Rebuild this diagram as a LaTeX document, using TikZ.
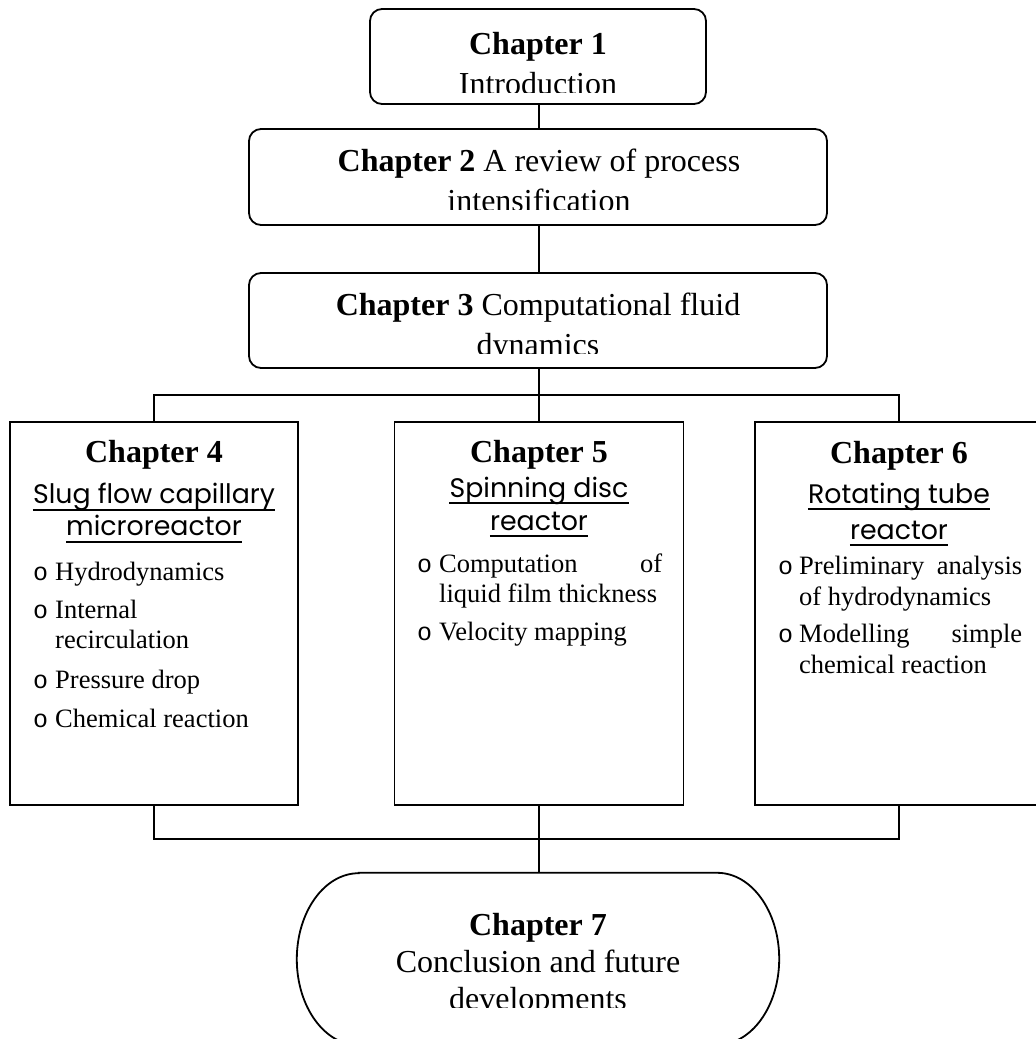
\documentclass[tikz,border=0pt]{standalone}
\usepackage{fontspec}
\setmainfont{Liberation Serif}
\newfontfamily\titlefont{Poppins}
\newfontfamily\bulfont{Liberation Mono}
\begin{document}
\begin{tikzpicture}[x=1pt,y=-1pt,
  box/.style={draw, line width=1.8pt, inner sep=0pt},
  rbox/.style={box, rounded corners=12pt},
  conn/.style={line width=1.8pt},
  uline/.style={line width=1.8pt},
  big/.style={font=\fontsize{32}{37}\selectfont, inner sep=0pt, anchor=base},
  body/.style={font=\fontsize{26.5}{30}\selectfont, inner sep=0pt, anchor=base west},
  bul/.style={font=\bulfont\fontsize{25}{30}\selectfont, inner sep=0pt, anchor=base west},
  ttl/.style={font=\titlefont\fontsize{26.8}{30}\selectfont, inner sep=0pt, anchor=base}]
\useasboundingbox (0,0) rectangle (1036,1039);
\begin{scope}
\clip (0,0) rectangle (1036,1039);
% boxes
\node[rbox, minimum width=336pt, minimum height=95pt] (c1) at (538,56.5) {};
\node[rbox, minimum width=578pt, minimum height=96pt] (c2) at (538,177) {};
\node[rbox, minimum width=578pt, minimum height=95pt] (c3) at (538,320.5) {};
\node[box, minimum width=288pt, minimum height=383pt] (c4) at (154,613.5) {};
\node[box, minimum width=289pt, minimum height=383pt] (c5) at (539,613.5) {};
\node[box, minimum width=288pt, minimum height=383pt] (c6) at (899,613.5) {};
\node[inner sep=0pt, minimum width=482pt, minimum height=172pt] (c7) at (538,959) {};
\draw[conn] ([xshift=62pt]c7.north west) -- ([xshift=-62pt]c7.north east)
  arc[start angle=90, end angle=-90, x radius=62pt, y radius=86pt]
  -- ([xshift=62pt]c7.south west)
  arc[start angle=270, end angle=90, x radius=62pt, y radius=86pt] -- cycle;
% connectors
\coordinate (j1) at (539,395);
\coordinate (j2) at (539,839);
\draw[conn] (c1.south -| j1) -- (c2.north -| j1);
\draw[conn] (c2.south -| j1) -- (c3.north -| j1);
\draw[conn] (c3.south -| j1) -- (j1);
\draw[conn] (c4.north) -- (c4.north |- j1) -- (c6.north |- j1) -- (c6.north);
\draw[conn] (j1) -- (c5.north);
\draw[conn] (c4.south) -- (c4.south |- j2) -- (c6.south |- j2) -- (c6.south);
\draw[conn] (c5.south) -- (c7.north -| c5.south);
% chapter 1-3 texts
\node[big] (t1a) at (538,54) {\textbf{Chapter 1}};
\begin{scope}\clip (0,0) rectangle (1036,92);
\node[big] (t1b) at (538,94) {Introduction};
\end{scope}
\node[big] (t2a) at (539,171) {\textbf{Chapter 2} A review of process};
\begin{scope}\clip (0,0) rectangle (1036,209);
\node[big] (t2b) at (539,211) {intensification};
\end{scope}
\node[big] (t3a) at (538,315) {\textbf{Chapter 3} Computational fluid};
\begin{scope}\clip (0,0) rectangle (1036,353);
\node[big] (t3b) at (538,355) {dynamics};
\end{scope}
% chapter 4
\node[big] (h4) at (154,462) {\textbf{Chapter 4}};
\node[ttl] (s4a) at (154,503) {Slug flow capillary};
\node[ttl] (s4b) at (154,535) {microreactor};
\draw[uline] ([yshift=-7pt]s4a.base west) -- ([yshift=-7pt]s4a.base east);
\draw[uline] ([yshift=-7pt]s4b.base west) -- ([yshift=-7pt]s4b.base east);
\node[bul] (b41) at (33,580) {o};
\node[body] (i41) at (55,580) {Hydrodynamics};
\node[bul] (b42) at (33,618) {o};
\node[body] (i42) at (55,618) {Internal};
\node[body] (i42b) at (55,648) {recirculation};
\node[bul] (b43) at (33,688) {o};
\node[body] (i43) at (55,688) {Pressure drop};
\node[bul] (b44) at (33,727) {o};
\node[body] (i44) at (55,727) {Chemical reaction};
% chapter 5
\node[big] (h5) at (539,462) {\textbf{Chapter 5}};
\node[ttl] (s5a) at (539,497) {Spinning disc};
\node[ttl] (s5b) at (539,530) {reactor};
\draw[uline] ([yshift=-6pt]s5a.base west) -- ([yshift=-6pt]s5a.base east);
\draw[uline] ([yshift=-6pt]s5b.base west) -- ([yshift=-6pt]s5b.base east);
\node[bul] (b51) at (417,572) {o};
\node[body] (i51) at (439,572) {\makebox[223pt][s]{Computation of}};
\node[body] (i51b) at (439,602) {liquid film thickness};
\node[bul] (b52) at (417,640) {o};
\node[body] (i52) at (439,640) {Velocity mapping};
% chapter 6
\node[big] (h6) at (899,463) {\textbf{Chapter 6}};
\node[ttl] (s6a) at (899,503) {Rotating tube};
\node[ttl] (s6b) at (899,539) {reactor};
\draw[uline] ([yshift=-6pt]s6a.base west) -- ([yshift=-6pt]s6a.base east);
\draw[uline] ([yshift=-6pt]s6b.base west) -- ([yshift=-6pt]s6b.base east);
\node[bul] (b61) at (778,574) {o};
\node[body] (i61) at (799,574) {\makebox[223pt][s]{Preliminary analysis}};
\node[body] (i61b) at (799,605) {of hydrodynamics};
\node[bul] (b62) at (778,642) {o};
\node[body] (i62) at (799,642) {\makebox[223pt][s]{Modelling simple}};
\node[body] (i62b) at (799,673) {chemical reaction};
% chapter 7
\node[big] (t7a) at (538,935) {\textbf{Chapter 7}};
\node[big] (t7b) at (538,972) {Conclusion and future};
\begin{scope}\clip (0,0) rectangle (1036,1007);
\node[big] (t7c) at (538,1009) {developments};
\end{scope}
\end{scope}
\end{tikzpicture}
\end{document}
